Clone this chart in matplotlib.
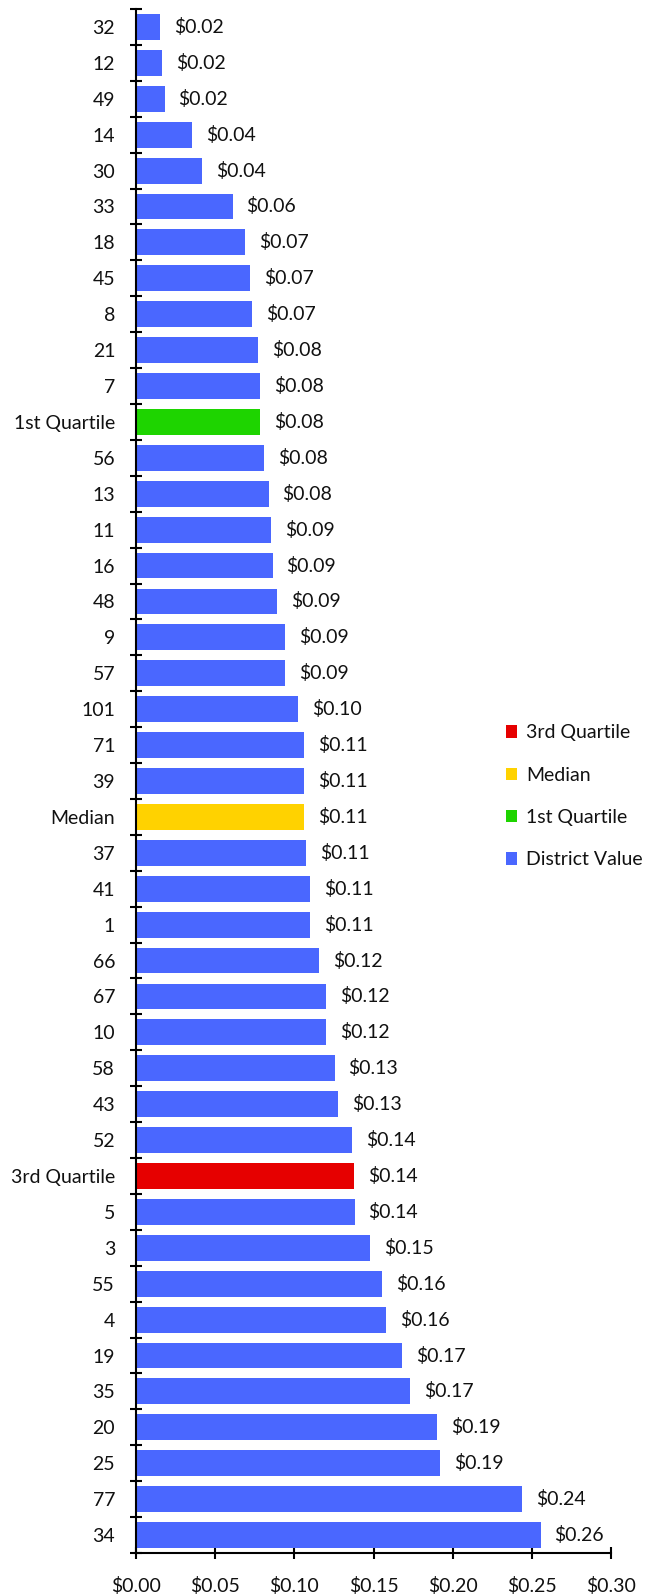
import matplotlib
matplotlib.use("Agg")
import matplotlib.pyplot as plt
from matplotlib.patches import Patch
from matplotlib.ticker import FixedLocator, FuncFormatter

plt.rcParams['font.family'] = ['Lato', 'DejaVu Sans']

# Districts (top to bottom) and their cost values in dollars
districts = ["32", "12", "49", "14", "30", "33", "18", "45", "8", "21", "7",
             "1st Quartile", "56", "13", "11", "16", "48", "9", "57", "101",
             "71", "39", "Median", "37", "41", "1", "66", "67", "10", "58",
             "43", "52", "3rd Quartile", "5", "3", "55", "4", "19", "35",
             "20", "25", "77", "34"]
values = [0.0152, 0.0167, 0.0180, 0.0354, 0.0418, 0.0610, 0.0689, 0.0720,
          0.0734, 0.0773, 0.0786, 0.0786, 0.0811, 0.0837, 0.0852, 0.0863,
          0.0889, 0.0940, 0.0942, 0.1024, 0.1060, 0.1062, 0.1062, 0.1075,
          0.1100, 0.1102, 0.1155, 0.1200, 0.1202, 0.1255, 0.1275, 0.1365,
          0.1378, 0.1380, 0.1480, 0.1555, 0.1580, 0.1680, 0.1730, 0.1900,
          0.1920, 0.2440, 0.2556]

legend_labels = ["3rd Quartile", "Median", "1st Quartile", "District Value"]
legend_colors = ["#E60000", "#FFD200", "#1ED400", "#4A67FF"]
x_ticks = [0.00, 0.05, 0.10, 0.15, 0.20, 0.25, 0.30]

color_of = dict(zip(legend_labels, legend_colors))
bar_colors = [color_of.get(d, color_of["District Value"]) for d in districts]

FS = 14
W, H = 658, 1596
fig = plt.figure(figsize=(W / 100, H / 100), dpi=100)
left, right, top, bottom = 136, 611, 9, 1553
ax = fig.add_axes([left / W, 1 - bottom / H, (right - left) / W, (bottom - top) / H])

n = len(districts)
pos = list(range(n))
ax.barh(pos, values, height=0.72, color=bar_colors, zorder=2)

for p, v in zip(pos, values):
    ax.annotate(f"\\${v:.2f}", xy=(v, p), xytext=(10, 0), textcoords="offset points",
                ha="left", va="center", fontsize=FS, color="#111111")

ax.set_ylim(n - 0.5, -0.5)
ax.set_xlim(0, 0.30)

# category labels at bar centres, tick marks on the category boundaries
ax.yaxis.set_major_locator(FixedLocator(pos))
ax.set_yticklabels(districts, fontsize=FS, color="#111111")
ax.yaxis.set_minor_locator(FixedLocator([p - 0.5 for p in pos] + [n - 0.5]))
ax.tick_params(axis="y", which="major", length=0, pad=15)
ax.tick_params(axis="y", which="minor", length=9, width=1.5, direction="inout", color="black")

ax.xaxis.set_major_locator(FixedLocator(x_ticks))
ax.xaxis.set_major_formatter(FuncFormatter(lambda x, _: f"\\${x:.2f}"))
ax.tick_params(axis="x", which="major", length=9, width=1.5, direction="inout",
               labelsize=FS, pad=13, colors="#111111")
ax.tick_params(axis="x", which="major", color="black")

for s in ["top", "right"]:
    ax.spines[s].set_visible(False)
for s in ["left", "bottom"]:
    ax.spines[s].set_linewidth(1.5)
    ax.spines[s].set_color("black")

handles = [Patch(facecolor=c, edgecolor="none") for c in legend_colors]
fig.legend(handles, legend_labels, loc="upper left",
           bbox_to_anchor=(488 / W, 1 - 707 / H), frameon=False, fontsize=FS,
           handlelength=0.6, handleheight=0.6, handletextpad=0.45,
           labelspacing=1.3, labelcolor="#111111")

fig.savefig("out.png", dpi=100)
